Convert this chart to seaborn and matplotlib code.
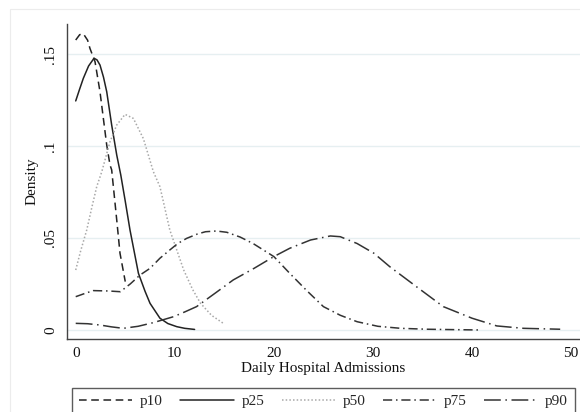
import matplotlib
matplotlib.use("Agg")
import matplotlib.pyplot as plt
import seaborn as sns
import pandas as pd
from matplotlib.patches import Rectangle

# Kernel density estimates of daily hospital admissions by percentile group
p10_x = [0.0, 0.4, 0.77, 1.2, 1.44, 1.95, 2.45, 2.79, 3.13, 3.46, 3.63, 4.14, 4.47, 5.0]
p10_y = [0.1576, 0.1605, 0.161, 0.1575, 0.153, 0.1458, 0.1295, 0.115, 0.1005, 0.0897, 0.087, 0.0598, 0.0417, 0.0263]

p25_x = [0.0, 0.4, 0.77, 1.3, 1.85, 2.15, 2.45, 2.8, 3.13, 3.63, 4.14, 4.55, 5.0, 5.48, 6.33, 7.0, 7.5, 8.5, 9.3, 10.2, 11.0, 12.0]
p25_y = [0.1245, 0.131, 0.1368, 0.1435, 0.1477, 0.1468, 0.144, 0.1375, 0.1295, 0.1114, 0.0951, 0.0842, 0.070, 0.0543, 0.0308, 0.021, 0.0145, 0.0064, 0.0035, 0.0018, 0.0009, 0.0003]

p50_x = [0.0, 0.5, 1.11, 1.6, 2.12, 2.63, 3.46, 4.14, 4.98, 5.82, 6.83, 7.84, 8.5, 9.5, 10.9, 11.8, 12.6, 13.7, 14.9]
p50_y = [0.0326, 0.043, 0.0543, 0.066, 0.0779, 0.086, 0.1023, 0.1114, 0.1172, 0.115, 0.104, 0.086, 0.0779, 0.0543, 0.0326, 0.022, 0.0145, 0.0080, 0.0036]

p75_x = [0.0, 1.0, 1.78, 3.3, 4.5, 5.5, 6.5, 7.5, 8.5, 9.5, 10.3, 11.2, 12.3, 13.1, 14.2, 15.25, 16.6, 17.9, 20.0, 21.6, 23.3, 25.0, 26.7, 28.4, 30.5, 32.8, 35.5, 38.0, 40.8]
p75_y = [0.0181, 0.0200, 0.0214, 0.0212, 0.0208, 0.0250, 0.0299, 0.0335, 0.0390, 0.0435, 0.0470, 0.0498, 0.0522, 0.0534, 0.0538, 0.0531, 0.0505, 0.0470, 0.0399, 0.0308, 0.0215, 0.0127, 0.0080, 0.0045, 0.0020, 0.0009, 0.0004, 0.0002, 0.0000]

p90_x = [0.0, 1.2, 2.45, 3.6, 4.8, 6.3, 7.84, 9.86, 11.0, 12.2, 14.2, 15.9, 18.0, 20.0, 21.6, 23.7, 25.7, 26.7, 28.4, 30.1, 31.7, 34.4, 37.1, 40.0, 42.5, 45.2, 48.9]
p90_y = [0.0036, 0.0034, 0.0027, 0.0017, 0.0009, 0.0020, 0.0040, 0.0072, 0.0098, 0.0127, 0.0205, 0.0272, 0.0335, 0.0399, 0.0444, 0.0489, 0.0511, 0.0507, 0.0470, 0.0417, 0.0344, 0.0235, 0.0127, 0.0064, 0.0022, 0.0009, 0.0004]

series = ["p10", "p25", "p50", "p75", "p90"]
xs = [p10_x, p25_x, p50_x, p75_x, p90_x]
ys = [p10_y, p25_y, p50_y, p75_y, p90_y]

x_ticks = [0, 10, 20, 30, 40, 50]
y_ticks = [0, 0.05, 0.10, 0.15]
y_tick_labels = ["0", ".05", ".1", ".15"]

frames = [pd.DataFrame({"admissions": x, "density": y, "group": name})
          for name, x, y in zip(series, xs, ys)]
df = pd.concat(frames, ignore_index=True)

sns.set_theme(style="white")
plt.rcParams["font.family"] = ["Liberation Serif", "DejaVu Serif"]

palette = {"p10": "#222222", "p25": "#222222", "p50": "#a8a8a8",
           "p75": "#333333", "p90": "#333333"}
dashes = {"p10": (5, 3), "p25": "", "p50": (1, 1.4),
          "p75": (6, 2.5, 1, 2.5), "p90": (11, 3, 1, 3)}

fig = plt.figure(figsize=(5.8, 4.12), dpi=100)
ax = fig.add_axes([0.115, 0.1772, 0.885, 0.7645])

# faint outer graph-region border
fig.patches.append(Rectangle((10 / 580, -0.1), 1.2, 1 - 9 / 412 + 0.1,
                             transform=fig.transFigure, fill=False,
                             edgecolor="#ececec", linewidth=0.8, zorder=0))

for y in y_ticks:
    ax.axhline(y, color="#e6eff1", linewidth=1.0, zorder=0)

sns.lineplot(data=df, x="admissions", y="density", hue="group", style="group",
             palette=palette, dashes=dashes, linewidth=1.1, sort=True,
             estimator=None, ax=ax, legend=True)

leg = ax.get_legend()
handles = leg.legend_handles
labels = [t.get_text() for t in leg.get_texts()]
leg.remove()

ax.set_xlim(-0.91, 50.9)
ax.set_ylim(-0.0049, 0.1663)
ax.set_xticks(x_ticks)
ax.set_xticklabels([str(t) for t in x_ticks])
ax.set_yticks(y_ticks)
ax.set_yticklabels(y_tick_labels, rotation=90, va="center")

for side in ["top", "right"]:
    ax.spines[side].set_visible(False)
for side in ["left", "bottom"]:
    ax.spines[side].set_color("#444444")
    ax.spines[side].set_linewidth(1.0)

ax.tick_params(axis="both", direction="out", length=4, width=0.9,
               color="#444444", labelsize=11, labelcolor="#111111")
ax.tick_params(axis="x", pad=2)
ax.tick_params(axis="y", pad=3)

ax.set_xlabel("Daily Hospital Admissions", fontsize=11, labelpad=1, color="#111111")
ax.set_ylabel("Density", fontsize=11, labelpad=4, color="#111111")

for h in handles:
    h.set_linewidth(1.1)

fig.legend(handles, labels, loc="upper left", ncol=5, mode="expand",
           bbox_to_anchor=(72 / 580, 1 - 388 / 412, 503 / 580, 0.001),
           bbox_transform=fig.transFigure, fontsize=11, frameon=True,
           fancybox=False, edgecolor="#333333", handlelength=3.5,
           handletextpad=0.5, borderpad=0.45, borderaxespad=0)
fig.legends[0].get_frame().set_linewidth(1.0)

fig.savefig("out.png", dpi=100)
